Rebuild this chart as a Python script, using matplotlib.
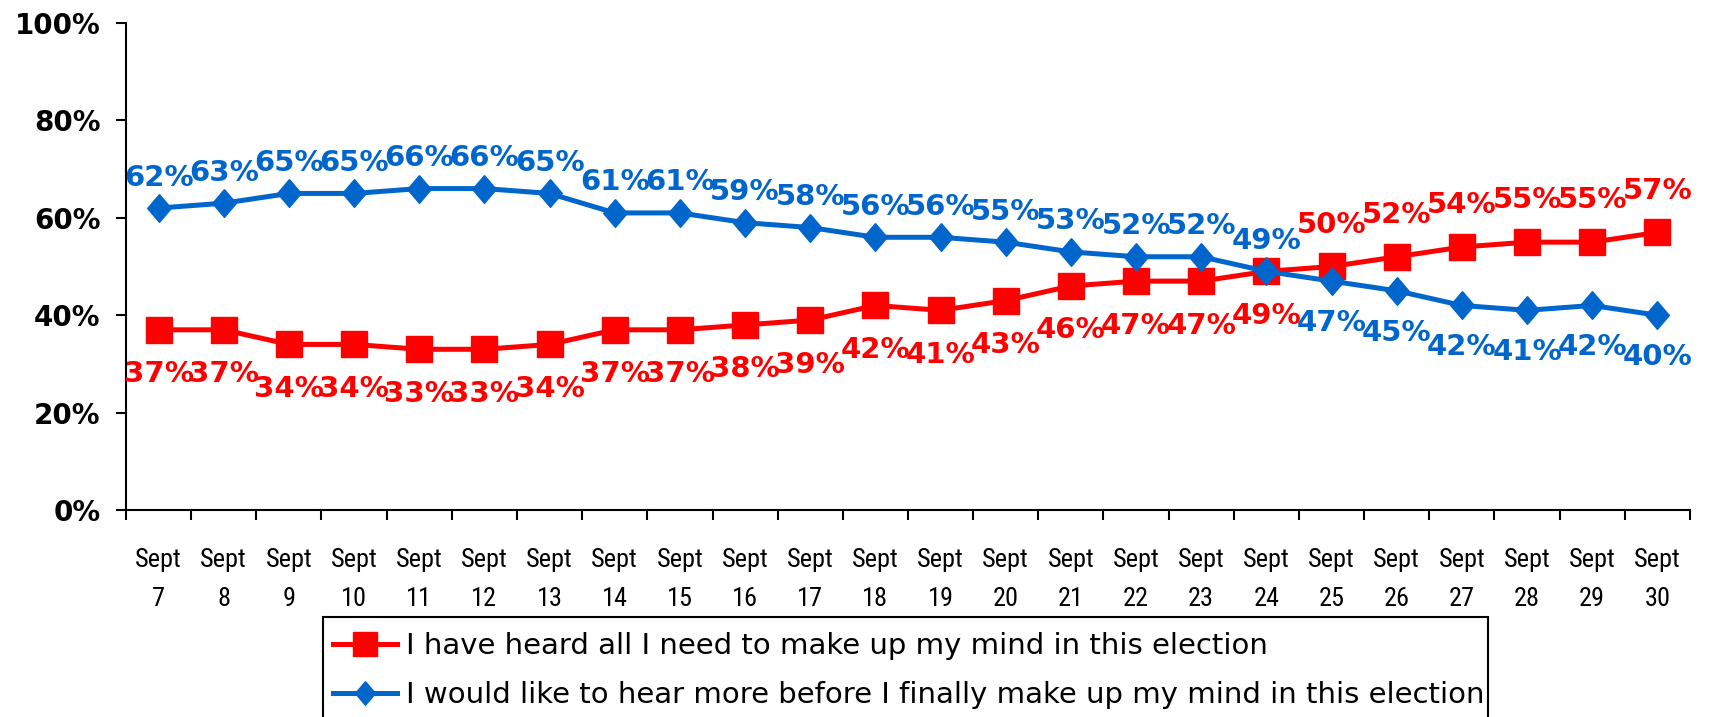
import matplotlib
matplotlib.use("Agg")
import matplotlib.pyplot as plt
from matplotlib import font_manager as fm
from matplotlib.font_manager import FontProperties
from matplotlib.textpath import TextPath
from matplotlib.patches import Rectangle
from matplotlib.lines import Line2D

# Daily tracking, Sept 7 - Sept 30
days = [7, 8, 9, 10, 11, 12, 13, 14, 15, 16, 17, 18, 19, 20, 21, 22, 23, 24,
        25, 26, 27, 28, 29, 30]
heard_all = [37, 37, 34, 34, 33, 33, 34, 37, 37, 38, 39, 42, 41, 43, 46, 47,
             47, 49, 50, 52, 54, 55, 55, 57]
hear_more = [62, 63, 65, 65, 66, 66, 65, 61, 61, 59, 58, 56, 56, 55, 53, 52,
             52, 49, 47, 45, 42, 41, 42, 40]
series_names = [
    "I have heard all I need to make up my mind in this election",
    "I would like to hear more before I finally make up my mind in this election",
]
y_ticks = [0, 20, 40, 60, 80, 100]

RED = "#FF0000"
BLUE = "#0066CC"
W, H, DPI = 1722, 717, 100

# wanted ink box of the word "Sept" in the date labels, in pixels
SEPT_W, SEPT_H = 44.0, 24.5

SANS = ("DejaVu Sans", "Liberation Sans", "Roboto", "Noto Sans", "Open Sans",
        "Lato", "Inter")
NARROW_SUFFIX = ("", " Condensed", " SemiCondensed", " Semi Condensed",
                 " ExtraCondensed", " Narrow", " Cond")


def ink(fp, text):
    ext = TextPath((0, 0), text, size=10, prop=fp).get_extents()
    return ext.width, ext.height


def date_font():
    """Choose a plain regular sans face with narrow proportions for the dates."""
    names = {s + suf for s in SANS for suf in NARROW_SUFFIX}
    faces = [f for f in fm.fontManager.ttflist
             if f.name in names and f.style == "normal"
             and f.weight in (400, "normal", "regular")]
    target = 42.0 / 23.0
    best, best_err = None, None
    for f in faces:
        try:
            fp = FontProperties(fname=f.fname)
            w, h = ink(fp, "Sept")
        except Exception:
            continue
        err = abs(w / h - target)
        if best is None or err < best_err:
            best, best_err = fp, err
    return best or FontProperties(family="DejaVu Sans")


fig = plt.figure(figsize=(W / DPI, H / DPI), dpi=DPI)
ax = fig.add_axes([126 / W, 1 - 510 / H, (1690 - 126) / W, (510 - 23) / H])

date_fp = date_font()
w10, h10 = ink(date_fp, "Sept")
px10 = DPI / 72.0
date_fp.set_size(0.5 * (10 * SEPT_W / (w10 * px10) + 10 * SEPT_H / (h10 * px10)))

x = list(range(len(days)))
diamond = [(0, 1), (0.85, 0), (0, -1), (-0.85, 0), (0, 1)]

ax.plot(x, heard_all, color=RED, lw=3.6, marker="s", ms=19,
        mec=RED, mfc=RED, clip_on=False, zorder=3)
ax.plot(x, hear_more, color=BLUE, lw=3.6, marker=diamond, ms=20,
        mec=BLUE, mfc=BLUE, clip_on=False, zorder=4)

label_font = dict(family="DejaVu Sans", weight="bold", size=21)


def add_labels(values, other, color, up_pts, down_pts, wins_tie):
    for i, (v, o) in enumerate(zip(values, other)):
        above = v > o or (v == o and wins_tie)
        dy = up_pts if above else -down_pts
        ax.annotate(f"{v}%", (i, v), xytext=(0, dy), textcoords="offset points",
                    ha="center", va="center", color=color, zorder=5,
                    annotation_clip=False, **label_font)


add_labels(hear_more, heard_all, BLUE, 22, 30, True)
add_labels(heard_all, hear_more, RED, 30, 32, False)

# axes styling
ax.set_xlim(-0.5, len(days) - 0.5)
ax.set_ylim(0, 100)
for side in ("top", "right"):
    ax.spines[side].set_visible(False)
for side in ("left", "bottom"):
    ax.spines[side].set_linewidth(1.5)
    ax.spines[side].set_color("black")

ax.set_yticks(y_ticks)
ax.set_yticklabels([f"{t}%" for t in y_ticks])
ax.tick_params(axis="y", direction="out", length=7.2, width=1.5, pad=11)
for lbl in ax.get_yticklabels():
    lbl.set_fontfamily("DejaVu Sans")
    lbl.set_fontweight("bold")
    lbl.set_fontsize(20)

ax.set_xticks([i - 0.5 for i in range(len(days) + 1)])
ax.set_xticklabels([])
ax.tick_params(axis="x", which="major", direction="out", length=7.2, width=1.5)
ax.set_xticks(x, minor=True)
ax.set_xticklabels([f"Sept\n{d}" for d in days], minor=True,
                   fontproperties=date_fp, linespacing=1.8)
ax.tick_params(axis="x", which="minor", length=0, pad=27)

# legend box, running off the bottom edge
fig.patches.append(Rectangle((323 / W, -0.05), (1488 - 323) / W, 0.05 + (717 - 617) / H,
                             transform=fig.transFigure, fill=False,
                             edgecolor="black", lw=1.5, clip_on=False))
handles = [
    Line2D([], [], color=RED, lw=3.6, marker="s", ms=17, mfc=RED, mec=RED),
    Line2D([], [], color=BLUE, lw=3.6, marker=diamond, ms=17, mfc=BLUE, mec=BLUE),
]
fig.legend(handles, series_names, loc="upper left",
           bbox_to_anchor=(333 / W, 1 - 632 / H), bbox_transform=fig.transFigure,
           frameon=False, borderpad=0, borderaxespad=0, handlelength=2.2,
           handletextpad=0.3, labelspacing=0.72,
           prop=dict(family="DejaVu Sans", size=21))

fig.savefig("out.png", dpi=DPI)
